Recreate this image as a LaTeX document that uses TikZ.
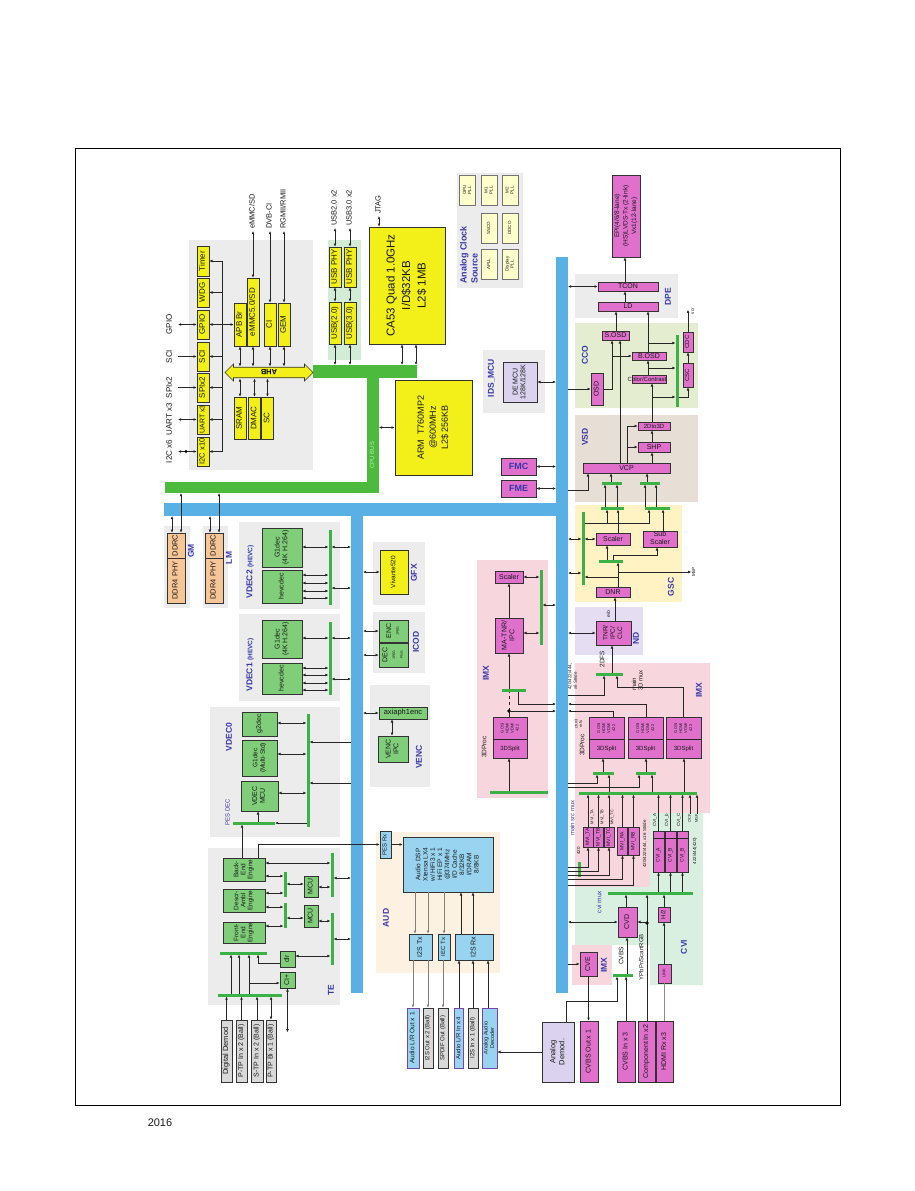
\documentclass[tikz,border=0pt]{standalone}
\usepackage{fontspec}
\setmainfont{Liberation Sans}
\usepackage{graphicx}
\usetikzlibrary{arrows.meta,shapes.arrows}
\definecolor{cyel}{RGB}{242,240,24}
\definecolor{cly}{RGB}{255,255,204}
\definecolor{cgrn}{RGB}{128,206,122}
\definecolor{cpink}{RGB}{224,112,204}
\definecolor{cablue}{RGB}{152,212,240}
\definecolor{corange}{RGB}{247,198,150}
\definecolor{clav}{RGB}{218,210,238}
\definecolor{cgreyb}{RGB}{217,217,217}
\definecolor{cbg}{RGB}{236,236,236}
\definecolor{cimx}{RGB}{247,214,221}
\definecolor{ccco}{RGB}{229,237,208}
\definecolor{cvsd}{RGB}{231,223,214}
\definecolor{cgsc}{RGB}{255,243,196}
\definecolor{cnd}{RGB}{229,221,242}
\definecolor{ccvi}{RGB}{217,240,225}
\definecolor{caud}{RGB}{253,241,226}
\definecolor{cusb}{RGB}{210,236,214}
\definecolor{cbus}{RGB}{88,176,228}
\definecolor{ccpu}{RGB}{76,186,60}
\definecolor{cgl}{RGB}{58,178,70}
\definecolor{ctitle}{RGB}{55,55,170}
\definecolor{cpurp}{RGB}{120,70,170}
\newcommand\R[1]{\rotatebox{90}{\begin{tabular}{@{}c@{}}#1\end{tabular}}}
\newcommand\RL[1]{\rotatebox{90}{\begin{tabular}{@{}l@{}}#1\end{tabular}}}
\newcommand\fsz[2]{\fontsize{#1}{#2}\selectfont}
\begin{document}
\begin{tikzpicture}[x=1pt,y=-1pt,
 sz/.style 2 args={minimum width=#1,minimum height=#2},
 box/.style={draw=black!80,line width=0.6pt,inner sep=0pt,text=black!90,font=\fsz{7}{7.8}},
 yb/.style={box,fill=cyel},
 gb/.style={box,fill=cgrn},
 pb/.style={box,fill=cpink},
 ab/.style={box,fill=cablue},
 ao/.style={box,fill=cablue,draw=cpurp},
 ob/.style={box,fill=corange},
 lb/.style={box,fill=clav},
 greyb/.style={box,fill=cgreyb},
 ckb/.style={box,fill=cly,draw=black!55,line width=0.4pt,font=\fsz{4.5}{5}},
 gl/.style={fill=cgl,inner sep=0pt,outer sep=0pt},
 busb/.style={fill=cbus,inner sep=0pt,outer sep=0pt},
 cpub/.style={fill=ccpu,inner sep=0pt,outer sep=0pt},
 ttl/.style={text=ctitle,font=\fsz{8.5}{9.5}\bfseries,inner sep=0pt},
 lbl/.style={inner sep=0pt,text=black!90},
 ln/.style={line width=0.6pt,draw=black!85},
 arr/.style={-{Latex[length=3.2pt,width=2.8pt]},line width=0.6pt,draw=black!85},
 darr/.style={{Latex[length=3.2pt,width=2.8pt]}-{Latex[length=3.2pt,width=2.8pt]},line width=0.6pt,draw=black!85},
 garr/.style={arr,draw=black!50}
]
\fill[white] (0,0) rectangle (914,1191);
\useasboundingbox (0,0) rectangle (914,1191);
\draw[line width=0.9pt] (75,148) rectangle (840,1105);
\node[lbl,font=\fsz{11}{12}] (yr) at (160,1123) {2016};

% ---------- backgrounds
\fill[cbg] (189,240) rectangle (313,470);
\fill[cusb] (328,240) rectangle (361,360);
\fill[cbg] (457,173) rectangle (523,288);
\fill[cbg] (483,350) rectangle (545,413);
\fill[cbg] (575,274) rectangle (678,318);
\fill[ccco] (575,323) rectangle (698,408);
\fill[cvsd] (575,415) rectangle (698,502);
\fill[cgsc] (575,505) rectangle (682,602);
\fill[cnd] (575,607) rectangle (643,655);
\fill[cimx] (575,663) -- (710,663) -- (710,813) -- (650,813) -- (650,887) -- (575,887) -- cycle;
\fill[ccvi] (650,813) -- (703,813) -- (703,985) -- (650,985) -- (650,945) -- (575,945) -- (575,887) -- (650,887) -- cycle;
\fill[cimx] (572,945) rectangle (612,985);
\fill[cimx] (477,560) rectangle (548,798);
\fill[cbg] (164,526) rectangle (190,608);
\fill[cbg] (203,526) rectangle (228,608);
\fill[cbg] (239,522) rectangle (340,609);
\fill[cbg] (239,614) rectangle (340,701);
\fill[cbg] (210,707) rectangle (340,837);
\fill[cbg] (208,848) rectangle (340,1005);
\fill[cbg] (373,542) rectangle (425,605);
\fill[cbg] (373,612) rectangle (425,673);
\fill[cbg] (370,685) rectangle (430,787);
\fill[caud] (376,832) rectangle (500,973);

% ---------- buses
\node[cpub,sz={104}{13}] (cpuT) at (365,371.5) {};
\node[cpub,sz={12}{128}] (cpuV) at (373,429) {};
\node[cpub,sz={214}{11}] (cpuB) at (272,487.5) {};
\node[lbl,text=ccpu!35!white,font=\fsz{6}{6}] (cpul) at (373,455) {\R{CPU BUS}};
\node[busb,sz={404}{13}] (busH) at (366,509.5) {};
\node[busb,sz={12}{477}] (busL) at (357,754.5) {};
\node[busb,sz={12}{736}] (busR) at (562,625) {};

% ---------- peripherals
\node[yb,sz={12}{30},font=\fsz{8}{9}] (timer) at (203,261) {\R{Timer}};
\node[yb,sz={12}{29},font=\fsz{8}{9}] (wdg) at (203,292.5) {\R{WDG}};
\node[yb,sz={12}{29},font=\fsz{8}{9}] (gpio) at (203,324.5) {\R{GPIO}};
\node[yb,sz={12}{29},font=\fsz{8}{9}] (sci) at (203,356.5) {\R{SCI}};
\node[yb,sz={12}{29},font=\fsz{8}{9}] (spi) at (203,387.5) {\R{SPIx2}};
\node[yb,sz={12}{29},font=\fsz{7}{8}] (uart) at (203,419.5) {\R{UART x3}};
\node[yb,sz={12}{29},font=\fsz{7.5}{8}] (i2c) at (203,451.5) {\R{I2C x10}};
\node[lbl,font=\fsz{8}{9}] (lgpio) at (170,324.5) {\R{GPIO}};
\node[lbl,font=\fsz{8}{9}] (lsci) at (170,356.5) {\R{SCI}};
\node[lbl,font=\fsz{8}{9}] (lspi) at (170,387.5) {\R{SPIx2}};
\node[lbl,font=\fsz{8}{9}] (luart) at (170,419.5) {\R{UART x3}};
\node[lbl,font=\fsz{8}{9}] (li2c) at (170,451.5) {\R{I2C x6}};
\node[yb,sz={12}{43},font=\fsz{8}{9}] (apb) at (240,324.5) {\R{APB Br}};
\node[yb,sz={12}{68},font=\fsz{8}{9}] (emmc) at (253,312) {\R{eMMC5.0/SD}};
\node[yb,sz={12}{43},font=\fsz{8}{9}] (ci) at (270,324.5) {\R{CI}};
\node[yb,sz={12}{43},font=\fsz{8}{9}] (gem) at (284,324.5) {\R{GEM}};
\node[double arrow,draw=black!80,fill=cyel,line width=0.6pt,minimum height=88,minimum width=17,double arrow head extend=3,inner xsep=0pt,inner ysep=2pt,font=\fsz{7.5}{8}\bfseries] (ahb) at (269,372.5) {\rotatebox{180}{AHB}};
\coordinate (ahbT) at (269,366.5);
\coordinate (ahbB) at (269,378.5);
\node[yb,sz={12}{42},font=\fsz{8}{9}] (sram) at (240,418) {\R{SRAM}};
\node[yb,sz={12}{42},font=\fsz{8}{9}] (dmac) at (254.5,418) {\R{DMAC}};
\node[yb,sz={12}{42},font=\fsz{8}{9}] (sc) at (267.5,418) {\R{SC}};
\node[lbl,anchor=south,font=\fsz{7.5}{8}] (lemmc) at (253,229) {\R{eMMC/SD}};
\node[lbl,anchor=south,font=\fsz{7.5}{8}] (ldvb) at (270,229) {\R{DVB-CI}};
\node[lbl,anchor=south,font=\fsz{7.5}{8}] (lrgm) at (284,229) {\R{RGMII/RMII}};
% USB
\node[yb,sz={12}{40},font=\fsz{8}{9}] (uphy1) at (335,267) {\R{USB PHY}};
\node[yb,sz={12}{40},font=\fsz{8}{9}] (uphy2) at (350,267) {\R{USB PHY}};
\node[yb,sz={12}{42},font=\fsz{8}{9}] (usb2) at (335,323) {\R{USB(2.0)}};
\node[yb,sz={12}{42},font=\fsz{8}{9}] (usb3) at (350,323) {\R{USB(3.0)}};
\node[lbl,anchor=south,font=\fsz{7.5}{8}] (lusb2) at (335,226) {\R{USB2.0 x2}};
\node[lbl,anchor=south,font=\fsz{7.5}{8}] (lusb3) at (350,226) {\R{USB3.0 x2}};
\node[lbl,anchor=south,font=\fsz{7.5}{8}] (ljtag) at (379,214) {\R{JTAG}};
% CPUs
\node[yb,sz={76}{117},font=\fsz{11.5}{15.5}] (ca53) at (407,285.5) {\R{CA53 Quad 1.0GHz\\I/D\$32KB\\L2\$ 1MB}};
\node[yb,sz={77}{95},font=\fsz{9}{12}] (arm) at (433.5,427.5) {\R{ARM \ T760MP2\\@600MHz\\L2\$ 256KB}};
% clock
\node[lbl,anchor=south,text=ctitle,font=\fsz{9}{11}\bfseries] (lclk) at (470,284) {\RL{Analog Clock\\Source}};
\node[ckb,sz={16}{30}] (gpupll) at (467.5,190) {\R{GPU\\PLL}};
\node[ckb,sz={16}{30}] (m1pll) at (489,190) {\R{M1\\PLL}};
\node[ckb,sz={16}{30}] (m2pll) at (510,190) {\R{M2\\PLL}};
\node[ckb,sz={16}{30}] (ssco) at (489,228) {\R{SSCO}};
\node[ckb,sz={16}{30}] (ddco) at (510,228) {\R{DDCO}};
\node[ckb,sz={16}{30}] (apll) at (489,264) {\R{APLL}};
\node[ckb,sz={16}{30}] (dpll) at (510,264) {\R{Display\\PLL}};
% IDS
\node[ttl] (lids) at (492,378) {\R{IDS\_MCU}};
\node[lb,sz={34}{40}] (demcu) at (520,382) {\R{DE MCU\\128K/128K}};
\node[pb,sz={35}{17},font=\fsz{9}{9}\bfseries,text=ctitle] (fmc) at (518.5,466.5) {FMC};
\node[pb,sz={35}{17},font=\fsz{9}{9}\bfseries,text=ctitle] (fme) at (518.5,488.5) {FME};
% DPE
\node[ttl] (ldpe) at (669,297) {\R{DPE}};
\node[pb,sz={60}{9}] (tcon) at (628,286.5) {TCON};
\node[pb,sz={60}{9}] (ld) at (628,306.5) {LD};
\node[pb,sz={28}{82},font=\fsz{6.5}{8.5}] (epi) at (626,216) {\R{EPI(4/6/8-lane)\\(HS)LVDS-Tx (2-link)\\Vx1(12-lane)}};
% CCO
\node[ttl] (lcco) at (586,355) {\R{CCO}};
\node[pb,sz={27}{9}] (sosd) at (615.5,335.5) {S.OSD};
\node[pb,sz={34}{8}] (bosd) at (649,356) {B.OSD};
\node[pb,sz={34}{8}] (colc) at (649,379) {};
\node[lbl,font=\fsz{6}{6}] (colct) at (647,379) {Color/Contrast};
\node[pb,sz={12}{32}] (osd) at (597,389) {\R{OSD}};
\node[pb,sz={10}{24},font=\fsz{6}{6}] (csc) at (688,375) {\R{CSC}};
\node[pb,sz={10}{20},font=\fsz{6}{6}] (cdc) at (688,342) {\R{CDC}};
\node[gl,sz={3}{72}] (cline) at (677,371) {};
\node[lbl,font=\fsz{4.5}{5}] (lscr) at (693,311) {\R{scr}};
% VSD
\node[ttl] (lvsd) at (586,437) {\R{VSD}};
\node[pb,sz={87}{10}] (vcp) at (626.5,468) {VCP};
\node[pb,sz={32}{10}] (shp) at (654,447) {SHP};
\node[pb,sz={32}{8},font=\fsz{6}{6}] (d23) at (654,426) {2Dto3D};
\node[gl,sz={20}{3}] (vl1) at (612,483) {};
\node[gl,sz={20}{3}] (vl2) at (650,483) {};
% GSC
\node[ttl] (lgsc) at (672,587) {\R{GSC}};
\node[gl,sz={3}{73}] (gline) at (583,548.5) {};
\node[pb,sz={34}{12}] (scal) at (613,539) {Scaler};
\node[pb,sz={34}{16},font=\fsz{7}{7.5}] (subs) at (660,539) {\begin{tabular}{@{}c@{}}Sub\\Scaler\end{tabular}};
\node[pb,sz={34}{10}] (dnr) at (613,592) {DNR};
\node[gl,sz={23}{3}] (g1) at (612.5,508) {};
\node[gl,sz={25}{3}] (g2) at (657.5,508) {};
\node[gl,sz={24}{3}] (gs) at (611,561) {};
\node[lbl,font=\fsz{4.5}{5}] (lmsp) at (694,572) {\R{MSP}};
% ND
\node[ttl] (lnd) at (637,638) {\R{ND}};
\node[pb,sz={35}{24},font=\fsz{6.5}{7.2}] (tnr) at (613.5,633) {\R{TNR/\\IPC/\\CLC}};
\node[lbl,font=\fsz{5}{5}] (leo) at (609,614) {\R{e/o}};
% right IMX
\node[ttl] (limx2) at (700,690) {\R{IMX}};
\node[gl,sz={27}{3}] (m3d) at (609.5,674) {};
\node[lbl,font=\fsz{6.5}{7}] (l2dfs) at (603,659) {\R{2DFS}};
\node[lbl,anchor=south,font=\fsz{6}{6.5}] (lm3d) at (638,691) {\RL{main\\3D mux}};
\node[lbl,anchor=south,font=\fsz{4.5}{5.5}] (lx8) at (573,690) {\RL{420/422/444,\\x8 Stride}};
\node[pb,sz={35}{41}] (ds1) at (606.5,737.5) {};
\node[pb,sz={35}{41}] (ds2) at (645.5,737.5) {};
\node[pb,sz={35}{41}] (ds3) at (683.5,737.5) {};
\node[lbl,font=\fsz{4}{5}] (ds1t) at (606.5,728) {\R{GOS/\\HDM/\\VDM/\\422}};
\node[lbl,font=\fsz{4}{5}] (ds2t) at (645.5,728) {\R{GOS/\\HDM/\\VDM/\\422}};
\node[lbl,font=\fsz{4}{5}] (ds3t) at (683.5,728) {\R{GOS/\\HDM/\\VDM/\\422}};
\node[lbl,font=\fsz{6}{6}] (ds1b) at (606.5,748.5) {3DSplit};
\node[lbl,font=\fsz{6}{6}] (ds2b) at (645.5,748.5) {3DSplit};
\node[lbl,font=\fsz{6}{6}] (ds3b) at (683.5,748.5) {3DSplit};
\node[lbl,font=\fsz{6.5}{7}] (l3dp2) at (583,745) {\R{3DProc}};
\node[lbl,font=\fsz{4}{4.5}] (lch) at (579,724) {\R{ch.\#3\\mfs}};
\node[gl,sz={21}{3}] (sg1) at (603.5,773) {};
\node[gl,sz={20}{3}] (sg2) at (646,773) {};
\node[gl,sz={118}{3}] (msm) at (638,793) {};
\node[lbl,text=ctitle,font=\fsz{6}{6}] (lmsm) at (573,818) {\R{main src mux}};
% MVI
\node[pb,sz={10}{20},font=\fsz{5}{5}] (mvta) at (588,837) {\R{MVI\_TA}};
\node[pb,sz={10}{20},font=\fsz{5}{5}] (mvtb) at (598.5,837) {\R{MVI\_TB}};
\node[pb,sz={10}{20},font=\fsz{5}{5}] (mvtc) at (609,837) {\R{MVI\_TC}};
\node[pb,sz={10}{28},font=\fsz{5}{5}] (mvra) at (622.5,841) {\R{MVI\_RA}};
\node[pb,sz={11}{28},font=\fsz{5}{5}] (mvrb) at (633.5,841) {\R{MVI\_RB}};
\node[lbl,font=\fsz{4}{4.5}] (lmta) at (592.5,817) {\R{MVI\_TA}};
\node[lbl,font=\fsz{4}{4.5}] (lmtb) at (602.5,817) {\R{MVI\_TB}};
\node[lbl,font=\fsz{4}{4.5}] (lmtc) at (612.5,817) {\R{MVI\_TC}};
\node[lbl,font=\fsz{4.5}{5}] (l420) at (579,851) {\R{420}};
\node[lbl,font=\fsz{4.5}{5}] (lx16) at (645,844) {\R{420/422/444, x16 Stride}};
\node[gl,sz={3}{15}] (g420) at (579,869.5) {};
% CVI
\node[pb,sz={11}{41}] (cvia) at (658.5,851.5) {};
\node[pb,sz={11}{41}] (cvib) at (670.5,851.5) {};
\node[pb,sz={11}{41}] (cvic) at (682.5,851.5) {};
\node[lbl,font=\fsz{5}{5}] (tcva) at (658.5,855) {\R{CVI\_A}};
\node[lbl,font=\fsz{5}{5}] (tcvb) at (670.5,855) {\R{CVI\_B}};
\node[lbl,font=\fsz{5}{5}] (tcvc) at (682.5,855) {\R{CVI\_B}};
\node[lbl,font=\fsz{4.5}{5}] (lcva) at (655,820) {\R{CVI\_A}};
\node[lbl,font=\fsz{4.5}{5}] (lcvb) at (667,820) {\R{CVI\_b}};
\node[lbl,font=\fsz{4.5}{5}] (lcvc) at (679,820) {\R{CVI\_C}};
\node[lbl,anchor=north,font=\fsz{4}{4.5}] (locf) at (690,814) {\R{OCF}};
\node[lbl,anchor=north,font=\fsz{4}{4.5}] (lmsf) at (697,814) {\R{MSF}};
\node[lbl,font=\fsz{4.5}{5}] (l422) at (695,851) {\R{422/444(420)}};
\node[gl,sz={85}{3}] (cvim) at (650.5,893) {};
\node[ttl] (lcvi) at (685,947) {\R{CVI}};
\node[lbl,text=ctitle,font=\fsz{6.5}{7}] (lcvim) at (600,902) {\R{cvi mux}};
\node[pb,sz={19}{30}] (cvd) at (627.5,922) {\R{CVD}};
\node[pb,sz={12}{15},font=\fsz{6}{6}] (h2) at (664,914.5) {\R{H/2}};
\node[pb,sz={13}{19},font=\fsz{4}{4}] (link) at (664.5,973.5) {\R{LINK}};
\node[gl,sz={20}{3}] (cvbsl) at (623,975) {};
\node[lbl,font=\fsz{6.5}{7}] (lcvbs) at (622,956) {\R{CVBS}};
\node[lbl,font=\fsz{6}{6}] (lypb) at (642,957) {\R{YPbPr/ScartRGB}};
\node[pb,sz={18}{61}] (cvbsi) at (626,1051.5) {\R{CVBS In x 3}};
\node[pb,sz={17}{61}] (comp) at (646.5,1051.5) {\R{Component In x2}};
\node[pb,sz={17}{61}] (hdmi) at (664.5,1051.5) {\R{HDMI Rx x3}};
% CVE
\node[ttl] (limx3) at (605,965) {\R{IMX}};
\node[pb,sz={17}{24}] (cve) at (588.5,964) {\R{CVE}};
\node[pb,sz={18}{61}] (cvbso) at (589,1051.5) {\R{CVBS Out x 1}};
\node[lb,sz={32}{60},font=\fsz{7.5}{9}] (adem) at (558,1052) {\R{Analog\\Demod.}};
% AUD
\node[ttl] (laud) at (387,918) {\R{AUD}};
\node[ab,sz={11}{27},font=\fsz{6}{6}] (pesrx) at (385.5,844.5) {\R{PES Rx}};
\node[ab,sz={90}{55},font=\fsz{6.5}{7.3}] (dsp) at (448,864.5) {\R{Audio DSP\\Xtensa LX4\\w/ HiFi3 x 1\\HiFi EP x 1\\@374MHz\\I/D Cache\\8/32KB\\I/DRAM\\8/8KB}};
\node[ab,sz={23}{26}] (i2stx) at (420.5,947) {\R{I2S Tx}};
\node[ab,sz={12}{26},font=\fsz{6}{6}] (iectx) at (444,947) {\R{IEC Tx}};
\node[ab,sz={38}{26}] (i2srx) at (474,947) {\R{I2S Rx}};
\node[ao,sz={12}{60},font=\fsz{6.5}{7}] (alro) at (413,1038) {\R{Audio L/R Out x 1}};
\node[greyb,sz={10}{60},font=\fsz{6}{6}] (i2so) at (428,1038) {\R{I2S Out x 2 (Ball)}};
\node[greyb,sz={10}{60},font=\fsz{6}{6}] (spdif) at (443,1038) {\R{SPDIF Out (Ball)}};
\node[ao,sz={9}{60},font=\fsz{6}{6}] (alri) at (459,1038) {\R{Audio L/R In x 4}};
\node[greyb,sz={10}{60},font=\fsz{6}{6}] (i2si) at (473,1038) {\R{I2S In x 1 (Ball)}};
\node[ao,sz={15}{60},font=\fsz{5.5}{6.5}] (aad) at (489.5,1038) {\R{Analog Audio\\Decoder}};
% TE
\node[ttl] (lte) at (332,990) {\R{TE}};
\node[gb,sz={42}{23},font=\fsz{6.5}{7}] (be) at (244,869.5) {\R{Back-\\End\\Engine}};
\node[gb,sz={42}{23},font=\fsz{6.5}{7}] (de) at (244,900.5) {\R{Descr-\\Ambl\\Engine}};
\node[gb,sz={42}{21},font=\fsz{6.5}{7}] (fe) at (244,932.5) {\R{Front-\\End\\Engine}};
\node[gb,sz={14}{21}] (mcu1) at (311,886.5) {\R{MCU}};
\node[gb,sz={14}{22}] (mcu2) at (311,916) {\R{MCU}};
\node[gl,sz={3}{25}] (sl1) at (285,884.5) {};
\node[gl,sz={3}{25}] (sl2) at (285,915.5) {};
\node[gl,sz={3}{44}] (rl1) at (332,875) {};
\node[gl,sz={3}{52}] (rl2) at (332,939) {};
\node[gb,sz={15}{16}] (dlr) at (287.5,959) {\R{dlr}};
\node[gb,sz={15}{16}] (cip) at (287.5,980) {\R{CI+}};
\node[gl,sz={47}{3}] (uhl) at (243.5,953) {};
\node[gl,sz={64}{3}] (lhl) at (250,995) {};
\node[greyb,sz={11}{62},font=\fsz{7.5}{8}] (dd) at (226.5,1051) {\R{Digital Demod}};
\node[greyb,sz={11}{62}] (ptp) at (241.5,1051) {\R{P-TP In x 2 (Ball)}};
\node[greyb,sz={12}{62}] (stp) at (257,1051) {\R{S-TP In x 2 (Ball)}};
\node[greyb,sz={10}{62}] (ptpbi) at (271,1051) {\R{P-TP Bi x 1 (Ball)}};
% VDEC0
\node[ttl] (lv0) at (230,737) {\R{VDEC0}};
\node[gb,sz={35}{24}] (g2dec) at (259.5,724) {\R{g2dec}};
\node[gb,sz={35}{36},font=\fsz{6.5}{7.5}] (g1d0) at (259.5,758) {\R{G1dec\\(Multi-Std)}};
\node[gb,sz={37}{30}] (vmcu) at (259.5,796) {\R{VDEC\\MCU}};
\node[gl,sz={3}{113}] (l0) at (308,770.5) {};
\node[gl,sz={42}{3}] (pesl) at (254,823) {};
\node[lbl,text=ctitle,font=\fsz{6}{6}] (lpes) at (228.5,812) {\R{PES DEC}};
% VDEC2 / VDEC1
\node[lbl,text=ctitle] (lv2) at (250,572) {\R{{\fsz{8.5}{9}\bfseries VDEC2 {\fsz{6.5}{7}(HEVC)}}}};
\node[gb,sz={40}{39}] (g1d2) at (282,547.5) {\R{G1dec\\(4K H.264)}};
\node[gb,sz={40}{33}] (hev2) at (282,586.5) {\R{hevcdec}};
\node[gl,sz={3}{75}] (l2) at (330,567.5) {};
\node[lbl,text=ctitle] (lv1) at (250,665) {\R{{\fsz{8.5}{9}\bfseries VDEC1 {\fsz{6.5}{7}(HEVC)}}}};
\node[gb,sz={40}{38}] (g1d1) at (282,639) {\R{G1dec\\(4K H.264)}};
\node[gb,sz={40}{31}] (hev1) at (282,678.5) {\R{hevcdec}};
\node[gl,sz={3}{73}] (l1) at (330,658.5) {};
% GM / LM
\node[ob,sz={18}{25},font=\fsz{7.5}{8}] (gmc) at (176,545.5) {\R{DDRC}};
\node[ob,sz={18}{45},font=\fsz{7.5}{8}] (gmp) at (176,580.5) {\R{DDR4 PHY}};
\node[ob,sz={18}{25},font=\fsz{7.5}{8}] (lmc) at (214,545.5) {\R{DDRC}};
\node[ob,sz={18}{45},font=\fsz{7.5}{8}] (lmp) at (214,580.5) {\R{DDR4 PHY}};
\node[ttl] (lgm) at (192,551) {\R{GM}};
\node[ttl] (llm) at (230,558) {\R{LM}};
% GFX ICOD VENC
\node[yb,sz={28}{44},font=\fsz{6.5}{7}] (viv) at (394,572) {\R{Vivante520}};
\node[ttl] (lgfx) at (415,573) {\R{GFX}};
\node[gb,sz={29}{22}] (enc) at (393.5,631) {\R{ENC\\{\fsz{3.5}{4}JPEG}}};
\node[gb,sz={29}{24}] (dec) at (393.5,655) {\R{DEC\\{\fsz{3.5}{4}JPEG}\\{\fsz{3.5}{4}PNG}}};
\node[ttl] (licod) at (417,642) {\R{ICOD}};
\node[gb,sz={48}{12},font=\fsz{7.5}{8}] (axi) at (403,713) {axiaph1enc};
\node[gb,sz={30}{26}] (venc) at (393,749) {\R{VENC\\IPC}};
\node[ttl] (lvenc) at (420,757) {\R{VENC}};
% left IMX
\node[ttl] (limx1) at (487,673) {\R{IMX}};
\node[pb,sz={28}{12}] (lsc) at (509,577) {Scaler};
\node[pb,sz={28}{35}] (mat) at (509,635.5) {\R{MA-TNR/\\IPC}};
\node[gl,sz={3}{75}] (ll) at (541,607.5) {};
\node[gl,sz={24}{3}] (lsg) at (514,690) {};
\node[pb,sz={34}{41}] (lds) at (510,737.5) {};
\node[lbl,font=\fsz{4}{5}] (ldst) at (510,728) {\R{GOS/\\HDM/\\VDM/\\422}};
\node[lbl,font=\fsz{6}{6}] (ldsb) at (510,748.5) {3DSplit};
\node[gl,sz={58}{3}] (lbot) at (519,792) {};
\node[lbl,font=\fsz{6.5}{7}] (l3dp1) at (485,747) {\R{3DProc}};

% ================= connectors
% peripheral
\draw[ln] (222,261) -- (222,452);
\draw[arr] (timer.east-|222,0) -- (timer.east);
\draw[arr] (wdg.east-|222,0) -- (wdg.east);
\draw[arr] (sci.east-|222,0) -- (sci.east);
\draw[arr] (spi.east-|222,0) -- (spi.east);
\draw[arr] (uart.east-|222,0) -- (uart.east);
\draw[arr] (i2c.east-|222,0) -- (i2c.east);
\draw[darr] (gpio.east) -- (apb.west|-gpio.east);
\draw[darr] (gpio.west-|178,0) -- (gpio.west);
\draw[arr] (sci.west-|178,0) -- (sci.west);
\draw[arr] (spi.west-|178,0) -- (spi.west);
\draw[darr] (uart.west-|178,0) -- (uart.west);
\draw[darr] (i2c.west-|178,0) -- (i2c.west);
\fill (186,451.5) circle (1.6);
\draw[darr] (apb.south) -- (apb.south|-ahbT);
\draw[darr] (emmc.south) -- (emmc.south|-ahbT);
\draw[darr] (ci.south) -- (ci.south|-ahbT);
\draw[darr] (gem.south) -- (gem.south|-ahbT);
\draw[darr] (sram.north) -- (sram.north|-ahbB);
\draw[darr] (dmac.north) -- (dmac.north|-ahbB);
\draw[darr] (sc.north) -- (sc.north|-ahbB);
\draw[darr] ([yshift=-2pt]lemmc.south) -- (emmc.north);
\draw[darr] ([yshift=-2pt]ldvb.south) -- (ci.north);
\draw[darr] ([yshift=-2pt]lrgm.south) -- (gem.north);
\draw[darr] ([yshift=-2pt]lusb2.south) -- (uphy1.north);
\draw[darr] ([yshift=-2pt]lusb3.south) -- (uphy2.north);
\draw[darr] (uphy1.south) -- (usb2.north);
\draw[darr] (uphy2.south) -- (usb3.north);
\draw[darr] (usb2.south) -- (usb2.south|-cpuT.north);
\draw[darr] (usb3.south) -- (usb3.south|-cpuT.north);
\draw[darr] ([yshift=-2pt]ljtag.south) -- (ljtag.south|-ca53.north);
\draw[darr] (ca53.south-|402,0) -- (402,0|-cpuT.north);
\draw[darr] (ca53.south-|416,0) -- (416,0|-cpuT.north);
\draw[darr] (cpuV.east|-arm.west) -- (arm.west);
% memory
\draw[darr] (gmc.north-|172,0) -- (busH.south-|172,0);
\draw[darr] (gmc.north-|181,0) -- (cpuB.south-|181,0);
\draw[darr] (lmc.north-|210,0) -- (busH.south-|210,0);
\draw[darr] (lmc.north-|219,0) -- (cpuB.south-|219,0);
% VDEC2/1
\draw[darr] (g1d2.east|-0,547) -- (l2.west|-0,547);
\foreach \yy in {575,583,591,598} \draw[darr] (hev2.east|-0,\yy) -- (l2.west|-0,\yy);
\draw[darr] (l2.east|-0,547) -- (busL.west|-0,547);
\draw[darr] (l2.east|-0,588) -- (busL.west|-0,588);
\draw[darr] (g1d1.east|-0,638) -- (l1.west|-0,638);
\foreach \yy in {668,675,683,690} \draw[darr] (hev1.east|-0,\yy) -- (l1.west|-0,\yy);
\draw[darr] (l1.east|-0,638) -- (busL.west|-0,638);
\draw[darr] (l1.east|-0,679) -- (busL.west|-0,679);
% VDEC0
\draw[darr] (g2dec.east|-0,723) -- (l0.west|-0,723);
\draw[darr] (g1d0.east|-0,754) -- (l0.west|-0,754);
\draw[darr] (vmcu.east|-0,793) -- (l0.west|-0,793);
\draw[arr] (busL.west|-0,742) -- (l0.east|-0,742);
\draw[arr] (busL.west|-0,783) -- (l0.east|-0,783);
\draw[arr] (pesl.north-|258,0) -- (vmcu.south-|258,0);
\draw[arr] (l0.west|-0,823) -- (pesl.east);
\draw[arr] (be.north-|242,0) -- (pesl.south-|242,0);
% TE
\draw[darr] (be.east|-0,863) -- (rl1.west|-0,863);
\draw[darr] (be.east|-0,876) -- (sl1.west|-0,876);
\draw[darr] (de.east|-0,893) -- (sl1.west|-0,893);
\draw[darr] (de.east|-0,907) -- (sl2.west|-0,907);
\draw[darr] (fe.east|-0,926) -- (sl2.west|-0,926);
\draw[darr] (sl1.east|-0,884) -- (mcu1.west|-0,884);
\draw[darr] (sl2.east|-0,918) -- (mcu2.west|-0,918);
\draw[darr] (mcu1.east|-0,887) -- (rl1.west|-0,887);
\draw[darr] (mcu2.east|-0,921) -- (rl2.west|-0,921);
\draw[darr] (rl1.east|-0,878) -- (busL.west|-0,878);
\draw[darr] (rl2.east|-0,939) -- (busL.west|-0,939);
\draw[darr] (dlr.east|-0,956) -- (rl2.west|-0,956);
\draw[arr] (lhl.north-|231,0) -- (uhl.south-|231,0);
\draw[arr] (lhl.north-|239,0) -- (uhl.south-|239,0);
\draw[arr] (lhl.north-|249,0) -- (uhl.south-|249,0);
\draw[arr] (249,983) -- (cip.west|-0,983);
\draw[arr] (dlr.west|-0,963) -| (uhl.south-|258,0);
\draw[darr] (cip.south) -- ++(0,44);
\draw[arr] (dd.north) -- (dd.north|-lhl.south);
\draw[arr] (ptp.north) -- (ptp.north|-lhl.south);
\draw[arr] (stp.north) -- (stp.north|-lhl.south);
\draw[darr] (ptpbi.north) -- (ptpbi.north|-lhl.south);
% AUD
\draw[arr] (be.north-|258,0) |- (pesrx.west);
\draw[arr] (pesrx.east) -- (dsp.west|-pesrx.east);
\draw[garr] (dsp.south-|415,0) -- (i2stx.north-|415,0);
\draw[garr] (dsp.south-|428,0) -- (i2stx.north-|428,0);
\draw[garr] (dsp.south-|444,0) -- (iectx.north-|444,0);
\draw[arr] (i2srx.north-|461,0) -- (dsp.south-|461,0);
\draw[arr] (i2srx.north-|473,0) -- (dsp.south-|473,0);
\draw[garr] (i2stx.south-|413,0) -- (alro.north);
\draw[garr] (i2stx.south-|428,0) -- (i2so.north);
\draw[garr] (iectx.south-|443,0) -- (spdif.north);
\draw[arr] (alri.north) -- (i2srx.south-|459,0);
\draw[arr] (i2si.north) -- (i2srx.south-|473,0);
\draw[arr] (aad.north-|488,0) -- (i2srx.south-|488,0);
\draw[arr] (adem.west) -- (aad.east|-adem.west);
\draw[arr] (adem.north-|566,0) |- (617,1001) -- (cvbsl.south-|617,0);
% GFX/ICOD/VENC
\draw[darr] (busL.east|-viv.west) -- (viv.west);
\draw[darr] (busL.east|-enc.west) -- (enc.west);
\draw[darr] (busL.east|-dec.west) -- (dec.west);
\draw[darr] (busL.east|-axi.west) -- (axi.west);
\draw[darr] (axi.south-|392,0) -- (venc.north-|392,0);
% IDS / FMC
\draw[darr] (demcu.east) -- (busR.west|-demcu.east);
\draw[darr] (fmc.east) -- (busR.west|-fmc.east);
\draw[darr] (fme.east) -- (busR.west|-fme.east);
% DPE / CCO / VSD
\draw[arr] (ld.north-|625,0) -- (tcon.south-|625,0);
\draw[darr] (busR.east|-tcon.west) -- (tcon.west);
\draw[arr] (tcon.north-|625,0) -- (epi.south-|625,0);
\draw[arr] (busR.east|-osd.west) -- (osd.west);
\draw[arr] (osd.east) -| (sosd.south-|612,0);
\coordinate (j1) at (612,356);
\draw[arr] (j1) -- (bosd.west);
\draw[arr] (sosd.north-|616,0) -- (ld.south-|616,0);
\draw[arr] (bosd.north-|648,0) -- (ld.south-|648,0);
\draw[arr] (colc.north-|648,0) -- (bosd.south-|648,0);
\coordinate (j2) at (648,343);
\coordinate (j3) at (648,368);
\coordinate (j4) at (652,397);
\draw[arr] (j2) -- (cline.west|-j2);
\draw[arr] (j3) -- (cline.west|-j3);
\draw[arr] (j4) -- (cline.west|-j4);
\draw[arr] (cline.east|-j4) -| (csc.south);
\draw[arr] (csc.north) -- (cdc.south);
\draw[arr] (cdc.north) -- ++(0,-22);
\draw[arr] (vcp.north-|652,0) -- (shp.south-|652,0);
\draw[arr] (shp.north-|652,0) -- (d23.south-|652,0);
\draw[arr] (d23.north-|652,0) -- (colc.south-|652,0);
\draw[arr] (vcp.north-|627,0) |- (d23.west);
\coordinate (j5) at (627,447);
\draw[arr] (j5) -- (shp.west);
\draw[arr] (vcp.north-|620,0) -- (sosd.south-|620,0);
\draw[arr] (vl1.north-|611,0) -- (vcp.south-|611,0);
\draw[arr] (vl2.north-|647,0) -- (vcp.south-|647,0);
\draw[arr] (busR.east|-0,490) -| (vcp.south-|588,0);
% GSC
\draw[darr] (busR.east|-0,539) -- (gline.west|-0,539);
\draw[darr] (busR.east|-0,573) -- (gline.west|-0,573);
\draw[darr] (gline.east|-scal.west) -- (scal.west);
\draw[arr] (scal.north-|618,0) -- (g1.south-|618,0);
\draw[arr] (subs.north-|663,0) -- (g2.south-|663,0);
\draw[arr] (gline.east|-0,523) -| (g2.south-|649,0);
\coordinate (j6) at (607,523);
\draw[arr] (j6) -- (g1.south-|607,0);
\draw[arr] (g1.north-|605,0) -- (vl1.south-|605,0);
\draw[arr] (g1.north-|617,0) -- (vl1.south-|617,0);
\draw[arr] (g2.north-|645,0) -- (vl2.south-|645,0);
\draw[arr] (g2.north-|656,0) -- (vl2.south-|656,0);
\draw[arr] (dnr.north-|618,0) -- (gs.south-|618,0);
\draw[arr] (gs.north-|607,0) -- (scal.south-|607,0);
\draw[arr] (gs.north-|613,0) |- (657,555) -- (subs.south-|657,0);
\coordinate (j7) at (618,572);
\coordinate (j8) at (618,577);
\draw[arr] (j7) -- (lmsp.west|-j7);
\draw[arr] (j8) -- (gline.east|-j8);
% ND
\draw[darr] (busR.east|-tnr.west) -- (tnr.west);
\draw[arr] (tnr.north-|615,0) -- (dnr.south-|615,0);
% right IMX
\draw[arr] (m3d.north-|612,0) -- (tnr.south-|612,0);
\draw[ln] (ds1.west|-0,739) -- (ds1.east|-0,739);
\draw[ln] (ds2.west|-0,739) -- (ds2.east|-0,739);
\draw[ln] (ds3.west|-0,739) -- (ds3.east|-0,739);
\draw[arr] (msm.north-|609,0) -- (sg1.south-|609,0);
\draw[arr] (msm.north-|652,0) -- (sg2.south-|652,0);
\draw[arr] (busR.east|-0,783) -| (sg1.south-|597,0);
\draw[arr] (busR.east|-0,787) -| (sg2.south-|639,0);
\draw[arr] (sg1.north-|603,0) -- (ds1.south-|603,0);
\draw[arr] (sg2.north-|646,0) -- (ds2.south-|646,0);
\draw[arr] (msm.north-|684,0) -- (ds3.south-|684,0);
\draw[arr] (ds1.north-|613,0) |- (busR.east|-0,711);
\draw[arr] (ds2.north-|646,0) |- (busR.east|-0,704);
\draw[arr] (ds3.north-|683,0) |- (617,687) -- (m3d.south-|617,0);
\draw[arr] (busR.east|-0,695) -| (m3d.south-|604,0);
% MVI
\draw[arr] (mvta.north) -- (mvta.north|-msm.south);
\draw[arr] (mvtb.north) -- (mvtb.north|-msm.south);
\draw[arr] (mvtc.north) -- (mvtc.north|-msm.south);
\draw[arr] (mvra.north) -- (mvra.north|-msm.south);
\draw[arr] (mvrb.north) -- (mvrb.north|-msm.south);
\draw[arr] (busR.east|-0,867) -| (mvta.south);
\draw[arr] (busR.east|-0,871) -| (mvtb.south);
\draw[arr] (busR.east|-0,875) -| (mvtc.south);
\draw[arr] (busR.east|-0,879) -| (mvra.south);
\draw[arr] (busR.east|-0,885) -| (mvrb.south);
% CVI
\draw[ln] (cvia.west|-0,838) -- (cvic.east|-0,838);
\draw[arr] (cvim.north-|cvia.south) -- (cvia.south);
\draw[arr] (cvim.north-|cvib.south) -- (cvib.south);
\draw[arr] (cvim.north-|cvic.south) -- (cvic.south);
\draw[arr] (cvia.north) -- (cvia.north|-msm.south);
\draw[arr] (cvib.north) -- (cvib.north|-msm.south);
\draw[arr] (cvic.north) -- (cvic.north|-msm.south);
\draw[arr] (locf.north) -- (locf.north|-msm.south);
\draw[arr] (lmsf.north) -- (lmsf.north|-msm.south);
\draw[darr] (busR.east|-cvd.west) -- (cvd.west);
\draw[arr] (cvd.north-|626,0) -- (cvim.south-|626,0);
\draw[arr] (h2.north) -- (h2.north|-cvim.south);
\draw[arr] (link.north-|664,0) -- (h2.south-|664,0);
\draw[arr] (cvbsl.north-|627,0) -- (cvd.south-|627,0);
\draw[arr] (cvbsi.north) -- (cvbsi.north|-cvbsl.south);
\draw[arr] (comp.north-|647,0) -- (647,0|-cvim.south);
\fill (647,923) circle (1.8);
\coordinate (j9) at (647,922);
\draw[arr] (j9) -- (cvd.east);
\draw[line width=0.6pt,draw=black!45] (hdmi.north-|664,0) -- (link.south-|664,0);
% CVE
\draw[arr] (busR.east|-cve.west) -- (cve.west);
\draw[arr] (cve.south) -- (cve.south|-cvbso.north);
% left IMX
\draw[darr] (lsc.east) -- (ll.west|-lsc.east);
\draw[darr] (mat.east|-0,633) -- (ll.west|-0,633);
\draw[darr] (ll.east|-0,605) -- (busR.west|-0,605);
\draw[arr] (mat.north) -- (lsc.south);
\draw[arr] (lsg.north-|509,0) -- (mat.south-|509,0);
\draw[ln] (lds.west|-0,739) -- (lds.east|-0,739);
\coordinate (jd) at (509,711);
\draw[ln] (lds.north-|509,0) -- (jd);
\draw[ln,dashed] (jd) -- (lsg.south-|509,0);
\fill (jd) circle (1.8);
\draw[arr] (jd) -- (busR.west|-jd);
\draw[arr] (lsg.south-|518,0) |- (busR.west|-0,704);
\draw[arr] (lbot.north-|509,0) -- (lds.south-|509,0);
\end{tikzpicture}
\end{document}
